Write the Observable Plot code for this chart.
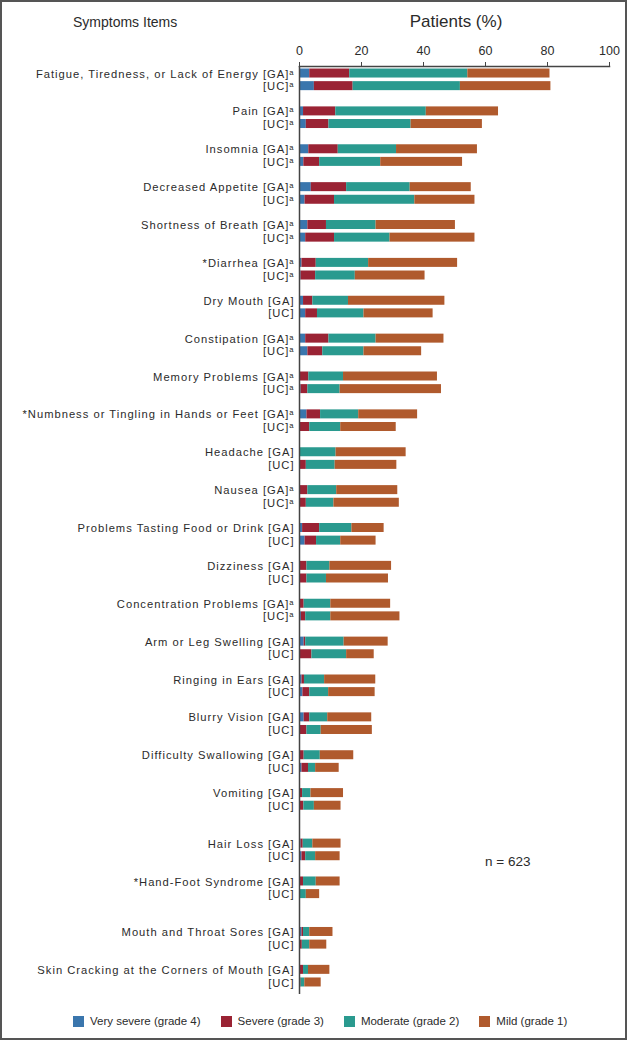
<!DOCTYPE html>
<html>
<head>
<meta charset="utf-8">
<script src="https://cdn.jsdelivr.net/npm/d3@7"></script>
<script src="https://cdn.jsdelivr.net/npm/@observablehq/plot@0.6"></script>
<style>
  html, body { margin: 0; padding: 0; background: #fff; }
  #fig { position: relative; width: 627px; height: 1040px; background: #fff; overflow: hidden;
         font-family: "Liberation Sans", Arial, sans-serif; color: #2b2b2b; }
  #border { position: absolute; left: 0; top: 0; width: 627px; height: 1040px; box-sizing: border-box;
            border: 2px solid #555; pointer-events: none; }
  .abs { position: absolute; line-height: 1; white-space: nowrap; }
  #chart { position: absolute; left: 0; top: 0; }
  #chart g[aria-label="y-axis tick label"] { letter-spacing: 1px; }
  #legend { position: absolute; left: 73px; top: 1015px; display: flex; align-items: center; font-size: 11.5px; }
  #legend .item { display: flex; align-items: center; margin-right: 20px; }
  #legend .sw { width: 11px; height: 11px; margin-right: 6px; }
</style>
</head>
<body>
<div id="fig">
  <div class="abs" style="left:73px; top:15px; font-size:14px;">Symptoms Items</div>
  <div class="abs" style="left:456px; top:13px; font-size:17px; transform:translateX(-50%);">Patients (%)</div>
  <div id="chart"></div>
  <div class="abs" style="left:485px; top:855px; font-size:13.5px;">n = 623</div>
  <div id="legend"></div>
  <div id="border"></div>
</div>
<script>
const symptoms = [
  "Fatigue, Tiredness, or Lack of Energy", "Pain", "Insomnia", "Decreased Appetite",
  "Shortness of Breath", "*Diarrhea", "Dry Mouth", "Constipation", "Memory Problems",
  "*Numbness or Tingling in Hands or Feet", "Headache", "Nausea", "Problems Tasting Food or Drink",
  "Dizziness", "Concentration Problems", "Arm or Leg Swelling", "Ringing in Ears", "Blurry Vision",
  "Difficulty Swallowing", "Vomiting", "Hair Loss", "*Hand-Foot Syndrome",
  "Mouth and Throat Sores", "Skin Cracking at the Corners of Mouth"
];
const footnoteA = [1,1,1,1,1,1,0,1,1,1,0,1,0,0,1,0,0,0,0,0,0,0,0,0];
const arms = ["GA", "UC"];
const grades = ["Very severe (grade 4)", "Severe (grade 3)", "Moderate (grade 2)", "Mild (grade 1)"];
const gradeColors = ["#3a76ad", "#9a2334", "#2a9a8f", "#b05a2d"];
const extraGapBefore = ["Hair Loss", "Mouth and Throat Sores"];
const xTicks = [0, 20, 40, 60, 80, 100];

const veryGA     = [3.3, 1.3, 3.0, 3.8, 2.7, 0.8, 1.3, 2.0, 0.2, 2.4, 0.0, 0.0, 1.0, 0.0, 0.0, 1.5, 0.8, 1.5, 0.0, 0.0, 0.5, 0.0, 0.8, 0.0];
const veryUC     = [4.8, 2.2, 1.4, 1.8, 2.0, 0.5, 2.0, 2.7, 0.5, 0.2, 0.0, 0.0, 1.8, 0.0, 0.6, 0.0, 1.1, 0.0, 0.8, 0.0, 0.8, 0.0, 0.0, 0.0];
const severeGA   = [12.9, 10.4, 9.5, 11.4, 6.0, 4.6, 3.0, 7.5, 2.8, 4.4, 0.2, 2.7, 5.5, 2.4, 1.5, 0.5, 0.8, 1.8, 1.5, 1.0, 0.7, 1.3, 0.5, 1.3];
const severeUC   = [12.5, 7.3, 5.1, 9.5, 9.3, 4.7, 3.8, 4.8, 2.2, 3.1, 2.2, 2.2, 3.7, 2.4, 1.4, 4.0, 2.2, 2.4, 2.1, 1.4, 1.2, 0.0, 0.9, 0.5];
const moderateGA = [38.1, 29.2, 18.8, 20.5, 16.0, 16.9, 11.5, 15.2, 11.2, 12.3, 11.6, 9.3, 10.4, 7.4, 8.6, 12.4, 6.5, 5.8, 5.2, 2.7, 3.1, 4.1, 2.0, 1.6];
const moderateUC = [34.6, 26.5, 19.7, 25.9, 17.9, 12.8, 15.0, 13.3, 10.4, 10.0, 9.3, 8.9, 7.8, 6.3, 8.1, 11.2, 6.1, 4.6, 2.3, 3.4, 3.2, 2.2, 2.4, 1.2];
const mildGA     = [26.5, 23.3, 26.1, 19.7, 25.6, 28.7, 31.1, 21.9, 30.3, 19.0, 22.6, 19.7, 10.4, 19.9, 19.3, 14.2, 16.5, 14.2, 10.8, 10.5, 9.1, 7.7, 7.5, 6.9];
const mildUC     = [29.2, 23.0, 26.4, 19.4, 27.4, 22.5, 22.3, 18.6, 32.7, 17.9, 19.9, 21.1, 11.4, 20.0, 22.3, 8.9, 15.0, 16.5, 7.6, 8.6, 7.9, 4.3, 5.5, 5.3];

const table = {
  GA: [veryGA, severeGA, moderateGA, mildGA],
  UC: [veryUC, severeUC, moderateUC, mildUC]
};

// rows of the band scale: GA, UC, and a blank spacer between items
const rows = [];
const labels = new Map();
symptoms.forEach((s, i) => {
  if (i > 0) rows.push(`gap${i}`);
  if (extraGapBefore.includes(s)) rows.push(`gapx${i}`);
  const sup = footnoteA[i] ? "\u1D43" : "";
  rows.push(`${i}|GA`);
  rows.push(`${i}|UC`);
  labels.set(`${i}|GA`, `${s} [GA]${sup}\n[UC]${sup}`);
});

const data = [];
symptoms.forEach((s, i) => {
  arms.forEach(a => {
    grades.forEach((g, gi) => {
      data.push({row: `${i}|${a}`, grade: g, value: table[a][gi][i]});
    });
  });
});

const W = 627, H = 1000, mTop = 66, mBottom = 11;
const padIn = 0.287, padOut = 0.2;
const step = (H - mTop - mBottom) / (rows.length - padIn + 2 * padOut);
const labelSize = 11.2;

const chart = Plot.plot({
  width: W,
  height: H,
  marginLeft: 299,
  marginRight: 18,
  marginTop: mTop,
  marginBottom: mBottom,
  style: {fontFamily: "'Liberation Sans', Arial, sans-serif", color: "#2b2b2b", background: "transparent"},
  x: {domain: [0, 100], axis: null},
  y: {type: "band", domain: rows, paddingInner: padIn, paddingOuter: padOut, axis: null},
  color: {domain: grades, range: gradeColors},
  marks: [
    Plot.barX(data, {x: "value", y: "row", fill: "grade", order: grades}),
    Plot.axisX({anchor: "top", ticks: xTicks, tickSize: 5, tickPadding: 7, fontSize: 12.5, stroke: "#444", label: null}),
    Plot.axisY({ticks: rows.filter(r => labels.has(r)), tickSize: 0, tickPadding: 5, label: null,
                tickFormat: r => labels.get(r) ?? "", fontSize: labelSize,
                lineHeight: step / labelSize, lineAnchor: "middle", dy: step / 2}),
    Plot.ruleX([0], {stroke: "#444", strokeWidth: 1.5, insetBottom: -5}),
    Plot.frame({anchor: "top", stroke: "#444", strokeWidth: 1.5})
  ]
});
document.getElementById("chart").appendChild(chart);

const legend = d3.select("#legend");
grades.forEach((g, i) => {
  const it = legend.append("div").attr("class", "item");
  it.append("div").attr("class", "sw").style("background", gradeColors[i]);
  it.append("span").text(g);
});
</script>
</body>
</html>
